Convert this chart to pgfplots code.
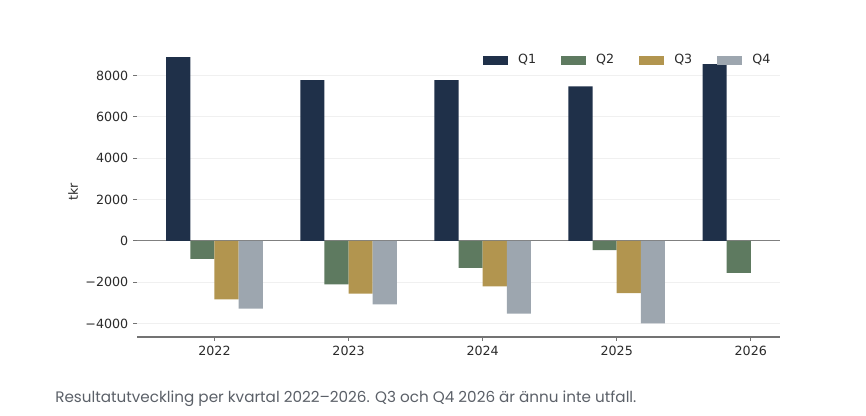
\documentclass[border=0pt]{standalone}
\usepackage{pgfplots}
\pgfplotsset{compat=1.18}
\usepackage{fontspec}
\setmainfont{DejaVu Sans}
\newfontfamily\capfont{Poppins}
\definecolor{cq1}{HTML}{1F3049}
\definecolor{cq2}{HTML}{5E7A60}
\definecolor{cq3}{HTML}{B2954F}
\definecolor{cq4}{HTML}{9DA6AF}
\definecolor{txt}{HTML}{2A2A2A}
\definecolor{capc}{HTML}{5B6068}
\begin{document}
\begin{tikzpicture}
\useasboundingbox (0,0) rectangle (649.5pt,312pt);
\begin{axis}[
  at={(102.75pt,59.25pt)}, anchor=south west,
  scale only axis, width=482.25pt, height=219.75pt,
  ybar, bar width=0.18,
  xmin=-0.578, xmax=4.218, ymin=-4655, ymax=9525,
  xtick={0,1,2,3,4}, xticklabels={2022,2023,2024,2025,2026},
  ytick={-4000,-2000,0,2000,4000,6000,8000},
  yticklabels={−4000,−2000,0,2000,4000,6000,8000},
  axis x line*=bottom, axis y line*=left,
  y axis line style={draw=none},
  x axis line style={draw=black!55, line width=0.9pt},
  tick align=outside, major tick length=3pt,
  tick style={draw=black!55, line width=0.6pt},
  ymajorgrids, major grid style={draw=black!6, line width=0.6pt},
  extra y ticks={0}, extra y tick labels={},
  extra y tick style={grid=major, major grid style={draw=black!50, line width=0.8pt}},
  ticklabel style={font=\fontsize{9.5}{11}\selectfont, text=txt},
  ylabel={tkr},
  ylabel style={at={(axis description cs:-0.0995,0.495)}, anchor=center, font=\fontsize{9.5}{11}\selectfont, text=txt},
  legend image code/.code={\fill[#1] (0pt,-3.4pt) rectangle (18.75pt,3.4pt);},
  legend columns=4,
  legend style={at={(axis description cs:0.538,0.945)}, anchor=west, draw=none, fill=none,
    inner sep=0pt, font=\fontsize{9.5}{11}\selectfont, text=txt,
    nodes={inner sep=0pt},
    /tikz/every odd column/.append style={column sep=7.5pt},
    /tikz/every even column/.append style={column sep=18.75pt}},
]
\addplot[fill=cq1, draw=none, bar shift=-0.27] coordinates {(0,8890) (1,7780) (2,7780) (3,7470) (4,8550)};
\addplot[fill=cq2, draw=none, bar shift=-0.09] coordinates {(0,-870) (1,-2110) (2,-1304) (3,-451) (4,-1546)};
\addplot[fill=cq3, draw=none, bar shift=0.09] coordinates {(0,-2834) (1,-2560) (2,-2206) (3,-2528)};
\addplot[fill=cq4, draw=none, bar shift=0.27] coordinates {(0,-3285) (1,-3076) (2,-3527) (3,-3994)};
\legend{Q1,Q2,Q3,Q4}
\end{axis}
\node[anchor=base west, inner sep=0pt, font=\capfont\fontsize{11.4}{13}\selectfont, text=capc] at (41.25pt,9.75pt) {Resultatutveckling per kvartal 2022–2026. Q3 och Q4 2026 är ännu inte utfall.};
\end{tikzpicture}
\end{document}
